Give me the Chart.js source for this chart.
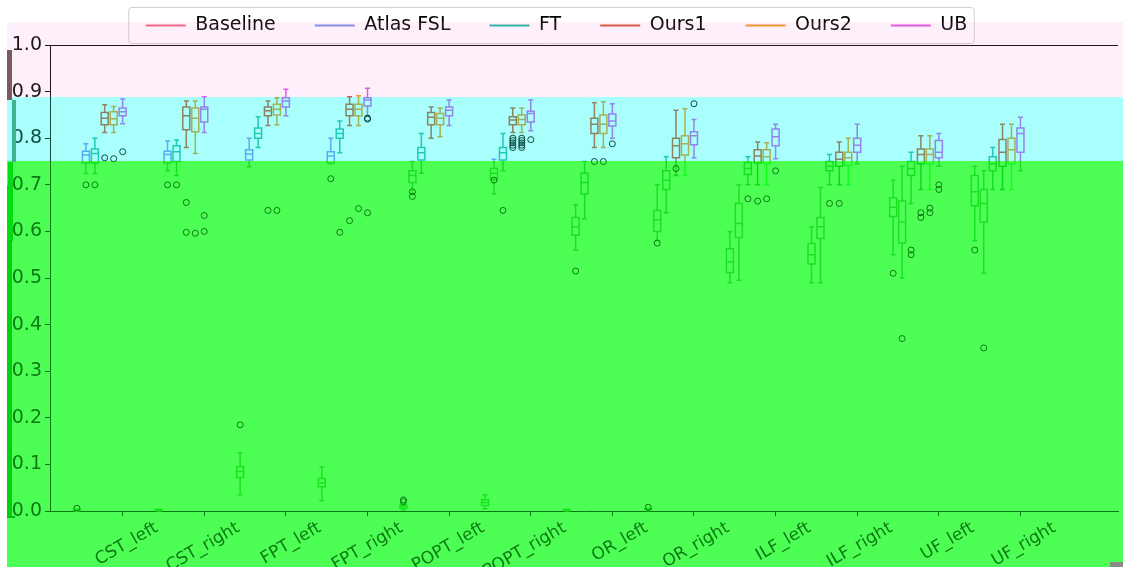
<!DOCTYPE html>
<html>
<head>
<meta charset="utf-8">
<script src="https://cdn.jsdelivr.net/npm/chart.js@4.4.1/dist/chart.umd.min.js"></script>
<style>
  html, body { margin: 0; padding: 0; background: #fff; }
  #wrap { width: 1123px; height: 567px; }
</style>
</head>
<body>
<div id="wrap"><canvas id="chart"></canvas></div>
<script>
const categories = ['CST_left', 'CST_right', 'FPT_left', 'FPT_right', 'POPT_left', 'POPT_right',
  'OR_left', 'OR_right', 'ILF_left', 'ILF_right', 'UF_left', 'UF_right'];
const seriesNames = ['Baseline', 'Atlas FSL', 'FT', 'Ours1', 'Ours2', 'UB'];
const seriesColors = ['#f0607a', '#7b8cf0', '#1fb5a0', '#d2502e', '#f5921e', '#e052e6'];

// [low whisker, q1, median, q3, high whisker] per category
const baselineBoxes = [
  [0.0, 0.001, 0.002, 0.003, 0.004], [0.0, 0.001, 0.002, 0.003, 0.004],
  [0.035, 0.072, 0.085, 0.095, 0.125], [0.022, 0.052, 0.06, 0.07, 0.095],
  [0.002, 0.006, 0.01, 0.013, 0.016], [0.005, 0.012, 0.018, 0.024, 0.035],
  [0.0, 0.001, 0.002, 0.003, 0.004], [0.001, 0.003, 0.004, 0.005, 0.006],
  [0.49, 0.512, 0.535, 0.563, 0.60], [0.49, 0.53, 0.55, 0.574, 0.61],
  [0.55, 0.632, 0.652, 0.672, 0.71], [0.58, 0.655, 0.685, 0.72, 0.74]
];
const atlasBoxes = [
  [0.724, 0.747, 0.764, 0.772, 0.788], [0.73, 0.747, 0.765, 0.772, 0.794],
  [0.739, 0.753, 0.766, 0.775, 0.80], [0.745, 0.747, 0.762, 0.771, 0.80],
  [0.68, 0.705, 0.72, 0.73, 0.75], [0.68, 0.712, 0.725, 0.735, 0.755],
  [0.56, 0.592, 0.61, 0.63, 0.657], [0.58, 0.60, 0.625, 0.645, 0.70],
  [0.495, 0.587, 0.617, 0.66, 0.70], [0.49, 0.585, 0.61, 0.63, 0.694],
  [0.50, 0.575, 0.62, 0.665, 0.74], [0.51, 0.62, 0.66, 0.69, 0.73]
];
const ftBoxes = [
  [0.724, 0.747, 0.767, 0.777, 0.80], [0.72, 0.75, 0.771, 0.784, 0.796],
  [0.78, 0.80, 0.81, 0.822, 0.846], [0.769, 0.80, 0.81, 0.82, 0.837],
  [0.725, 0.753, 0.769, 0.78, 0.81], [0.73, 0.753, 0.769, 0.78, 0.81],
  [0.627, 0.68, 0.705, 0.725, 0.75], [0.64, 0.69, 0.71, 0.73, 0.76],
  [0.70, 0.722, 0.735, 0.748, 0.76], [0.70, 0.73, 0.74, 0.75, 0.765],
  [0.66, 0.72, 0.735, 0.75, 0.77], [0.69, 0.73, 0.745, 0.76, 0.78]
];
const ours1Boxes = [
  [0.812, 0.829, 0.843, 0.855, 0.872], [0.78, 0.818, 0.848, 0.867, 0.88],
  [0.827, 0.848, 0.859, 0.867, 0.88], [0.827, 0.848, 0.862, 0.873, 0.889],
  [0.80, 0.829, 0.845, 0.855, 0.867], [0.812, 0.829, 0.839, 0.846, 0.865],
  [0.78, 0.81, 0.83, 0.843, 0.876], [0.72, 0.758, 0.784, 0.80, 0.86],
  [0.70, 0.747, 0.762, 0.775, 0.792], [0.70, 0.74, 0.755, 0.77, 0.792],
  [0.69, 0.745, 0.765, 0.777, 0.805], [0.69, 0.74, 0.77, 0.797, 0.83]
];
const ours2Boxes = [
  [0.812, 0.829, 0.842, 0.857, 0.868], [0.767, 0.814, 0.843, 0.865, 0.88],
  [0.829, 0.85, 0.862, 0.873, 0.887], [0.827, 0.848, 0.862, 0.873, 0.891],
  [0.803, 0.829, 0.843, 0.853, 0.865], [0.812, 0.829, 0.84, 0.85, 0.865],
  [0.78, 0.81, 0.83, 0.85, 0.878], [0.72, 0.764, 0.788, 0.805, 0.863],
  [0.70, 0.745, 0.76, 0.775, 0.79], [0.70, 0.742, 0.758, 0.77, 0.80],
  [0.69, 0.745, 0.765, 0.777, 0.805], [0.69, 0.745, 0.775, 0.80, 0.83]
];
const ubBoxes = [
  [0.831, 0.848, 0.857, 0.865, 0.884], [0.812, 0.835, 0.862, 0.867, 0.889],
  [0.848, 0.867, 0.88, 0.887, 0.905], [0.848, 0.869, 0.882, 0.887, 0.907],
  [0.827, 0.848, 0.86, 0.867, 0.882], [0.816, 0.835, 0.853, 0.858, 0.882],
  [0.80, 0.826, 0.837, 0.852, 0.874], [0.758, 0.786, 0.805, 0.814, 0.84],
  [0.756, 0.784, 0.803, 0.82, 0.83], [0.745, 0.77, 0.785, 0.80, 0.83],
  [0.74, 0.758, 0.77, 0.795, 0.81], [0.73, 0.77, 0.81, 0.822, 0.845]
];

// outliers per category
const baselineOutliers = [[0.006], [], [0.185], [], [0.02, 0.024], [], [], [0.008], [], [], [0.51], [0.56]];
const atlasOutliers = [[0.70], [0.70], [], [0.713], [0.685, 0.675], [0.71], [0.515], [0.575], [], [], [0.37], [0.35]];
const ftOutliers = [[0.70], [0.70], [], [0.598], [], [0.645], [], [], [0.67], [0.66], [0.55, 0.56], []];
const ours1Outliers = [[0.758], [0.662, 0.598], [0.645], [0.623], [], [0.78, 0.785, 0.79, 0.795, 0.80],
  [0.75], [0.735], [0.665], [0.66], [0.64, 0.63], []];
const ours2Outliers = [[0.756], [0.596], [0.645], [0.649], [], [0.78, 0.785, 0.79, 0.795, 0.80],
  [0.75], [], [0.67], [], [0.65, 0.64], []];
const ubOutliers = [[0.771], [0.60, 0.634], [], [0.841, 0.843, 0.64], [], [0.797],
  [0.788], [0.874], [0.73], [], [0.70, 0.69], []];

const allBoxes = [baselineBoxes, atlasBoxes, ftBoxes, ours1Boxes, ours2Boxes, ubBoxes];
const allOutliers = [baselineOutliers, atlasOutliers, ftOutliers, ours1Outliers, ours2Outliers, ubOutliers];
const yTicks = [0, 0.1, 0.2, 0.3, 0.4, 0.5, 0.6, 0.7, 0.8, 0.9, 1.0];

// box position inside a group, in category units (UB sits on the tick)
const seriesOffsets = [-0.56, -0.45, -0.34, -0.22, -0.11, 0];
const boxHalf = 3.5;
const capHalf = 2.5;
const legendShift = -5;

// coloured strips laid over the finished picture
const bands = [
  { top: 22, bottom: 97, bg: [253, 240, 250], ink: [30, 20, 28] },
  { top: 97, bottom: 161, bg: [168, 255, 252], ink: [10, 74, 64] },
  { top: 161, bottom: 567, bg: [77, 255, 85], ink: [10, 120, 16], hue: '#00ff00' }
];

const rgb = (c) => `rgb(${c[0]},${c[1]},${c[2]})`;

const boxPlugin = {
  id: 'boxes',
  beforeDatasetsDraw(chart) {
    const { ctx } = chart;
    const xs = chart.scales.x;
    const ys = chart.scales.y;
    ctx.save();
    ctx.lineWidth = 1.5;
    allBoxes.forEach((boxes, s) => {
      ctx.strokeStyle = seriesColors[s];
      boxes.forEach((b, i) => {
        const x = xs.getPixelForValue(i + seriesOffsets[s]);
        const [lo, q1, med, q3, hi] = b.map(v => ys.getPixelForValue(v));
        ctx.beginPath();
        ctx.rect(x - boxHalf, q3, boxHalf * 2, q1 - q3);
        ctx.moveTo(x - boxHalf, med); ctx.lineTo(x + boxHalf, med);
        ctx.moveTo(x, q3); ctx.lineTo(x, hi);
        ctx.moveTo(x, q1); ctx.lineTo(x, lo);
        ctx.moveTo(x - capHalf, hi); ctx.lineTo(x + capHalf, hi);
        ctx.moveTo(x - capHalf, lo); ctx.lineTo(x + capHalf, lo);
        ctx.stroke();
      });
    });
    ctx.restore();
  }
};

const framePlugin = {
  id: 'frame',
  afterLayout(chart) {
    chart.legend.left += legendShift;
    chart.legend.right += legendShift;
  },
  beforeDraw(chart) {
    const { ctx, chartArea, width, height } = chart;
    ctx.save();
    ctx.fillStyle = '#fff';
    ctx.fillRect(0, 0, width, height);
    const hb = chart.legend.legendHitBoxes;
    if (hb && hb.length) {
      const first = hb[0], last = hb[hb.length - 1];
      const cy = first.top + first.height / 2;
      const l = first.left + legendShift - 12;
      const r = last.left + last.width + legendShift + 12;
      ctx.strokeStyle = '#d0d0d0';
      ctx.lineWidth = 1;
      ctx.beginPath();
      ctx.roundRect(l, cy - 18, r - l, 36, 3);
      ctx.fill();
      ctx.stroke();
    }
    ctx.strokeStyle = '#000';
    ctx.lineWidth = 1;
    ctx.beginPath();
    ctx.moveTo(chartArea.left, chartArea.top + 0.5);
    ctx.lineTo(chartArea.right, chartArea.top + 0.5);
    ctx.stroke();
    ctx.restore();
  }
};

const tintPlugin = {
  id: 'tint',
  afterDraw(chart) {
    const { ctx, width } = chart;
    ctx.save();
    bands.forEach(b => {
      const h = b.bottom - b.top;
      if (b.hue) {
        ctx.globalCompositeOperation = 'hue';
        ctx.fillStyle = b.hue;
        ctx.fillRect(7, b.top, width - 7, h);
      }
      ctx.globalCompositeOperation = 'multiply';
      ctx.fillStyle = rgb(b.bg.map((v, k) => v - b.ink[k]));
      ctx.fillRect(7, b.top, width - 7, h);
      ctx.globalCompositeOperation = 'lighter';
      ctx.fillStyle = rgb(b.ink);
      ctx.fillRect(7, b.top, width - 7, h);
    });
    ctx.globalCompositeOperation = 'source-over';
    // stray strips along the left edge and the bottom corner
    [[7, 50, 5, 50, '#7b5a68'], [12, 100, 4, 62, '#40b38f'], [8, 162, 5, 24, '#00dd10'],
     [7, 185, 6, 56, '#00dd10'], [7, 240, 5, 278, '#00d010'], [7, 516, 8, 2, '#00c010'],
     [1110, 562, 13, 5, '#8a8a8a']].forEach(([x, y, w, h, c]) => {
      ctx.fillStyle = c;
      ctx.fillRect(x, y, w, h);
    });
    ctx.restore();
  }
};

new Chart(document.getElementById('chart'), {
  type: 'scatter',
  data: {
    datasets: seriesNames.map((name, s) => ({
      label: name,
      data: allOutliers[s].flatMap((vals, i) => vals.map(v => ({ x: i + seriesOffsets[s], y: v }))),
      pointStyle: 'circle',
      pointRadius: 3,
      borderWidth: 1,
      borderColor: '#000',
      backgroundColor: 'rgba(0,0,0,0)'
    }))
  },
  options: {
    responsive: true,
    maintainAspectRatio: false,
    animation: false,
    devicePixelRatio: 1,
    layout: { padding: { top: -23, left: 0, right: 0, bottom: 0 } },
    scales: {
      x: {
        type: 'linear',
        min: -0.89,
        max: 12.195,
        afterBuildTicks: (scale) => { scale.ticks = categories.map((c, i) => ({ value: i })); },
        afterFit: (scale) => { scale.height = 56; },
        ticks: {
          callback: (value) => categories[value],
          font: { family: 'DejaVu Sans', size: 17 },
          color: '#000',
          minRotation: 30,
          maxRotation: 30,
          labelOffset: 34,
          padding: 2
        },
        grid: { drawOnChartArea: false, color: '#000', tickLength: 5 },
        border: { color: '#000', width: 1 }
      },
      y: {
        min: 0,
        max: 1,
        afterBuildTicks: (scale) => { scale.ticks = yTicks.map(v => ({ value: v })); },
        afterFit: (scale) => { scale.width = 50; },
        ticks: {
          callback: (value) => value.toFixed(1),
          font: { family: 'DejaVu Sans', size: 19 },
          color: '#000',
          padding: 3
        },
        grid: { drawOnChartArea: false, color: '#000', tickLength: 5 },
        border: { color: '#000', width: 1 }
      }
    },
    plugins: {
      tooltip: { enabled: false },
      legend: {
        position: 'top',
        labels: {
          font: { family: 'DejaVu Sans', size: 19 },
          color: '#000',
          boxWidth: 40,
          boxHeight: 2,
          padding: 39,
          generateLabels: () => seriesNames.map((name, s) => ({
            text: name,
            fillStyle: seriesColors[s],
            strokeStyle: seriesColors[s],
            lineWidth: 0,
            datasetIndex: s
          }))
        }
      }
    }
  },
  plugins: [boxPlugin, framePlugin, tintPlugin]
});
</script>
</body>
</html>
